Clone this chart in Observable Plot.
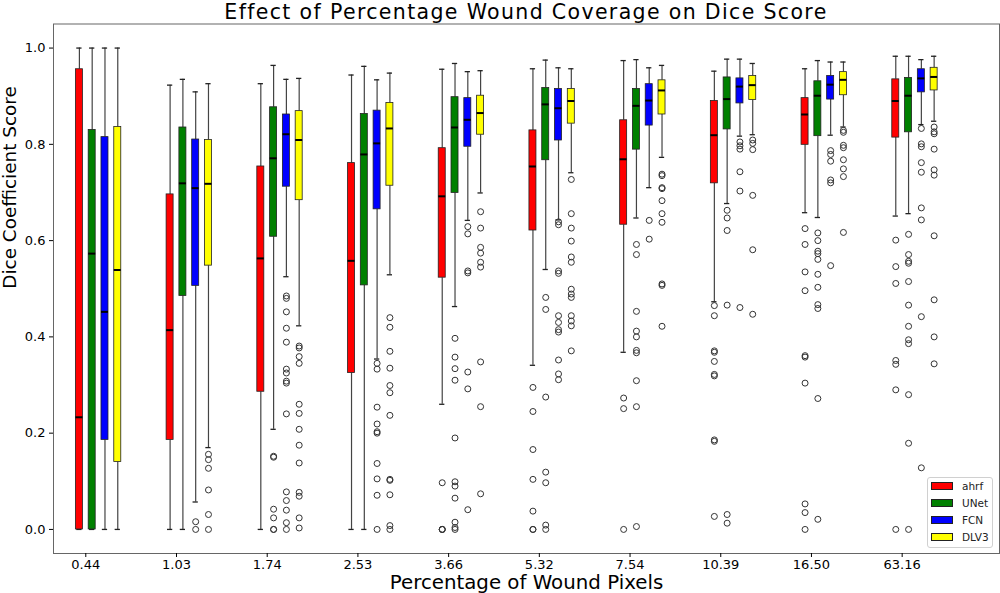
<!DOCTYPE html>
<html><head><meta charset="utf-8">
<script src="https://cdn.jsdelivr.net/npm/d3@7"></script>
<script src="https://cdn.jsdelivr.net/npm/@observablehq/plot@0.6"></script>
<style>
body{margin:0;background:#fff;font-family:"DejaVu Sans",sans-serif;}
#wrap{position:relative;width:1000px;height:593px;overflow:hidden;}
#title{width:946px;margin-left:53px;height:22px;line-height:24px;font-size:20.5px;letter-spacing:1.35px;text-align:center;color:#000;white-space:nowrap;}
#legend{position:absolute;box-sizing:border-box;left:927px;top:477px;width:66px;height:71px;border:1px solid #d0d0d0;border-radius:3px;background:rgba(255,255,255,0.85);font-size:10.5px;color:#222;}
#legend .row{position:absolute;left:3px;height:12px;display:flex;align-items:center;}
#legend .sw{box-sizing:border-box;width:22px;height:8px;border:1px solid #222;margin-right:9px;}
</style>
</head><body>
<div id="wrap">
<div id="title">Effect of Percentage Wound Coverage on Dice Score</div>
<div id="chart"></div>
<div id="legend"></div>
</div>
<script>
const categories = ["0.44","1.03","1.74","2.53","3.66","5.32","7.54","10.39","16.50","63.16"];
const models = ["ahrf","UNet","FCN","DLV3"];
const modelColors = ["#ff0000","#008000","#0000ff","#ffff00"];
const yTicks = [0, 0.2, 0.4, 0.6, 0.8, 1.0];

// [whisker low, q1, median, q3, whisker high]
const ahrfStats = [
  [0,0,0.233,0.956,1.0],[0,0.186,0.414,0.696,0.923],[0,0.286,0.563,0.754,0.926],
  [0,0.325,0.558,0.761,0.944],[0.260,0.523,0.692,0.792,0.956],[0.341,0.621,0.754,0.829,0.957],
  [0.368,0.633,0.769,0.850,0.974],[0.473,0.719,0.819,0.890,0.952],[0.658,0.799,0.862,0.896,0.957],
  [0.651,0.814,0.890,0.935,0.983]];
const unetStats = [
  [0,0,0.573,0.830,1.0],[0,0.485,0.719,0.835,0.935],[0.208,0.608,0.771,0.877,0.964],
  [0,0.507,0.779,0.863,0.962],[0.463,0.699,0.835,0.898,0.968],[0.540,0.767,0.883,0.917,0.975],
  [0.647,0.789,0.880,0.915,0.976],[0.677,0.831,0.894,0.939,0.977],[0.648,0.817,0.901,0.931,0.974],
  [0.656,0.825,0.901,0.938,0.983]];
const fcnStats = [
  [0,0.186,0.452,0.815,1.0],[0.057,0.506,0.709,0.810,0.909],[0.525,0.712,0.821,0.862,0.935],
  [0.354,0.665,0.802,0.870,0.934],[0.642,0.795,0.851,0.896,0.951],[0.643,0.808,0.875,0.915,0.959],
  [0.710,0.839,0.891,0.925,0.959],[0.817,0.885,0.920,0.937,0.977],[0.819,0.893,0.924,0.942,0.971],
  [0.841,0.908,0.937,0.956,0.976]];
const dlv3Stats = [
  [0,0.140,0.539,0.836,1.0],[0.170,0.548,0.718,0.809,0.926],[0.423,0.684,0.809,0.869,0.937],
  [0.529,0.714,0.833,0.886,0.948],[0.699,0.820,0.865,0.901,0.953],[0.741,0.843,0.890,0.915,0.957],
  [0.773,0.862,0.912,0.933,0.964],[0.820,0.892,0.923,0.942,0.968],[0.836,0.902,0.934,0.950,0.971],
  [0.848,0.912,0.940,0.959,0.983]];

const ahrfOutliers = [
  [],[],[],[],
  [0.097,0,0,0],
  [0.295,0.245,0.166,0.104,0.038,0,0],
  [0.273,0.251,0],
  [0.465,0.444,0.371,0.368,0.349,0.322,0.319,0.186,0.183,0.027],
  [0.625,0.592,0.535,0.496,0.361,0.358,0.304,0.053,0.035,0],
  [0.601,0.546,0.511,0.351,0.343,0.290,0]];
const unetOutliers = [
  [],[],
  [0.152,0.150,0.042,0.024,0,0],
  [],
  [0.397,0.358,0.334,0.310,0.190,0.099,0.090,0.065,0.015,0.004,0],
  [0.482,0.457,0.275,0.119,0.097,0.009,0],
  [0.592,0.571,0.453,0.412,0.400,0.372,0.367,0.309,0.255,0.006],
  [0.663,0.647,0.621,0.466,0.031,0.013],
  [0.616,0.600,0.578,0.573,0.561,0.530,0.503,0.467,0.459,0.272,0.021],
  [0.613,0.571,0.557,0.553,0.515,0.466,0.422,0.394,0.386,0.280,0.179,0]];
const fcnOutliers = [
  [],
  [0.016,0],
  [0.485,0.480,0.452,0.418,0.389,0.333,0.325,0.308,0.304,0.240,0.078,0.060,0.040,0.014,0],
  [0.345,0.333,0.254,0.219,0.203,0.200,0.137,0.105,0.071,0],
  [0.629,0.614,0.537,0.533,0.327,0.292,0.041],
  [0.639,0.633,0.537,0.532,0.444,0.430,0.415,0.410,0.352,0.323,0.311],
  [0.642,0.603],
  [0.805,0.797,0.790,0.743,0.703,0.461],
  [0.787,0.779,0.765,0.726,0.720,0.548],
  [0.833,0.801,0.795,0.762,0.742,0.668,0.643,0.442,0.128]];
const dlv3Outliers = [
  [],
  [0.156,0.145,0.127,0.082,0.031,0],
  [0.381,0.377,0.359,0.345,0.260,0.241,0.208,0.175,0.138,0.077,0.069,0.024,0.003],
  [0.440,0.420,0.370,0.335,0.299,0.284,0.237,0.104,0.102,0.072,0.008,0],
  [0.660,0.626,0.586,0.574,0.555,0.545,0.348,0.255,0.074],
  [0.727,0.656,0.626,0.599,0.566,0.555,0.499,0.489,0.482,0.444,0.433,0.423,0.371],
  [0.738,0.735,0.710,0.708,0.683,0.656,0.638,0.510,0.507,0.422],
  [0.809,0.802,0.789,0.694,0.581,0.447],
  [0.829,0.825,0.798,0.793,0.768,0.749,0.733,0.617],
  [0.836,0.826,0.822,0.790,0.747,0.736,0.610,0.477,0.400,0.344]];

const allStats = [ahrfStats, unetStats, fcnStats, dlv3Stats];
const allOutliers = [ahrfOutliers, unetOutliers, fcnOutliers, dlv3Outliers];

const step = 0.141, halfBox = 0.0386, halfCap = 0.029;
const boxes = [];
const fliers = [];
models.forEach((m, k) => {
  categories.forEach((c, i) => {
    const [lo, q1, med, q3, hi] = allStats[k][i];
    const x = i + (k - 0.5) * step;
    boxes.push({model: m, k, x, lo, q1, med, q3, hi});
    allOutliers[k][i].forEach(v => fliers.push({model: m, x, v}));
  });
});

const chart = Plot.plot({
  width: 1000,
  height: 571,
  marginLeft: 53,
  marginRight: 1,
  marginTop: 1.5,
  marginBottom: 40,
  style: {fontFamily: "'DejaVu Sans', sans-serif", background: "#fff", color: "#000"},
  x: {domain: [-0.356, 10.073]},
  y: {domain: [-0.05, 1.05]},
  color: {domain: models, range: modelColors},
  marks: [
    Plot.ruleX(boxes, {x: "x", y1: "lo", y2: "q1", stroke: "#444", strokeWidth: 1.2}),
    Plot.ruleX(boxes, {x: "x", y1: "q3", y2: "hi", stroke: "#444", strokeWidth: 1.2}),
    Plot.ruleY(boxes, {y: "lo", x1: d => d.x - halfCap, x2: d => d.x + halfCap, stroke: "#222", strokeWidth: 1.3}),
    Plot.ruleY(boxes, {y: "hi", x1: d => d.x - halfCap, x2: d => d.x + halfCap, stroke: "#222", strokeWidth: 1.3}),
    Plot.rect(boxes, {x1: d => d.x - halfBox, x2: d => d.x + halfBox, y1: "q1", y2: "q3", fill: "model", stroke: "#222", strokeWidth: 0.8}),
    Plot.ruleY(boxes, {y: "med", x1: d => d.x - halfBox, x2: d => d.x + halfBox, stroke: "#000", strokeWidth: 2}),
    Plot.dot(fliers, {x: "x", y: "v", r: 3, stroke: "#333", strokeWidth: 1, fill: "none"}),
    Plot.frame({stroke: "#666", strokeWidth: 1}),
    Plot.axisY({ticks: yTicks, tickFormat: d3.format(".1f"), tickSize: 4, tickPadding: 4, fontSize: 13, label: null}),
    Plot.axisX({ticks: d3.range(categories.length), tickFormat: i => categories[i], tickSize: 4, tickPadding: 2, fontSize: 13, label: null}),
    Plot.text(["Dice Coefficient Score"], {text: d => d, frameAnchor: "left", rotate: -90, dx: -43, fontSize: 18.4}),
    Plot.text(["Percentage of Wound Pixels"], {text: d => d, frameAnchor: "bottom", dy: 35, fontSize: 19.8, lineAnchor: "bottom"})
  ]
});
document.getElementById("chart").appendChild(chart);

const legend = document.getElementById("legend");
models.forEach((m, k) => {
  const row = document.createElement("div");
  row.className = "row";
  row.style.top = (2 + k * 16.9) + "px";
  const sw = document.createElement("div");
  sw.className = "sw";
  sw.style.background = modelColors[k];
  const lab = document.createElement("span");
  lab.textContent = m;
  row.appendChild(sw); row.appendChild(lab);
  legend.appendChild(row);
});
</script>
</body></html>
